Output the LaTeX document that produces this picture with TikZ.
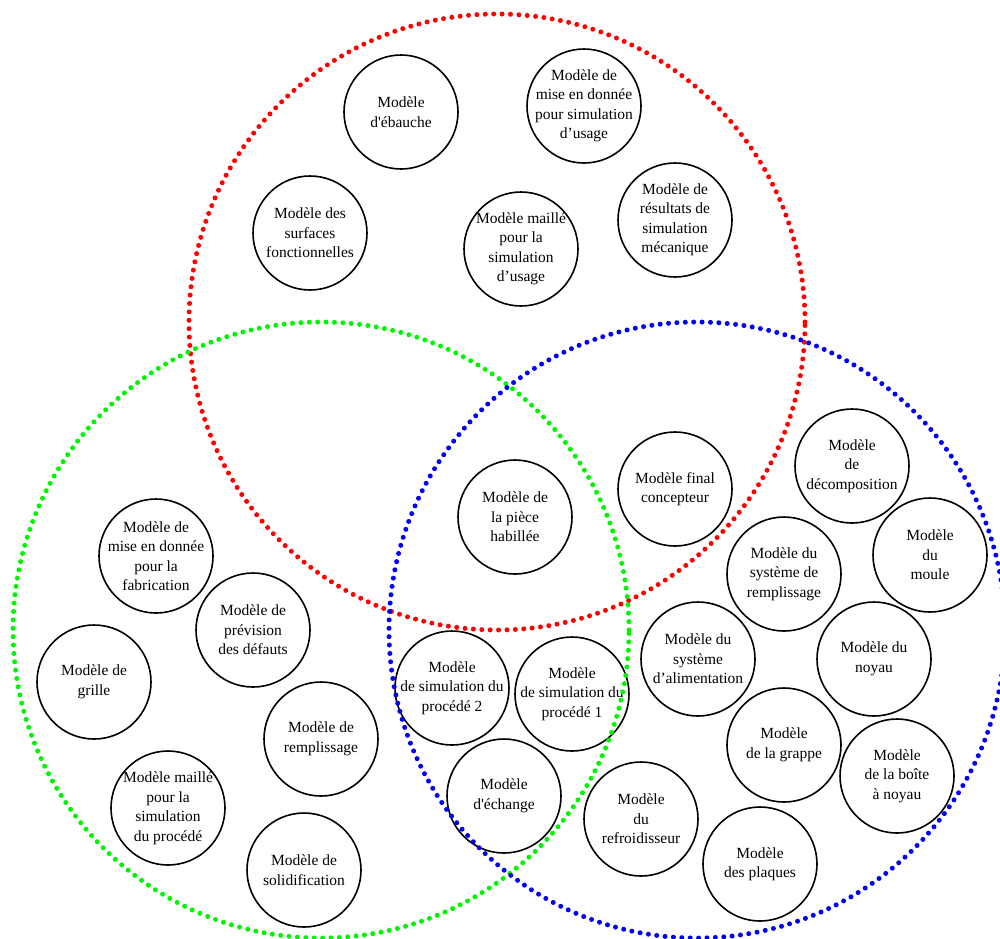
\documentclass[tikz,border=0pt]{standalone}
\usepackage{fontspec}
\setmainfont{Liberation Serif}[Ligatures=TeXOff]
\definecolor{vred}{RGB}{255,0,0}
\definecolor{vgreen}{RGB}{0,245,0}
\definecolor{vblue}{RGB}{0,0,245}
\begin{document}
\begin{tikzpicture}[x=1pt,y=-1pt,
  txt/.style={align=center,font=\fontsize{15.5}{19.5}\selectfont,inner sep=0pt},
  bub/.style={draw=black,line width=1.6pt},
  venn/.style={line width=5pt,line cap=round,dash pattern=on 0pt off 8.4pt}]
\useasboundingbox (0,0) rectangle (1000,938);
\clip (0,0) rectangle (1000,938);
\fill[white] (0,0) rectangle (1000,938);
% small models
\node[txt] (n1) at (401,112) {Modèle\\d'ébauche};
\node[txt] (n2) at (584,106) {Modèle de\\mise en donnée\\pour simulation\\d’usage};
\node[txt] (n3) at (310,233) {Modèle des\\surfaces\\fonctionnelles};
\node[txt] (n4) at (521,249) {Modèle maillé\\pour la\\simulation\\d’usage};
\node[txt] (n5) at (675,220) {Modèle de\\résultats de\\simulation\\mécanique};
\node[txt] (n6) at (515,517) {Modèle de\\la pièce\\habillée};
\node[txt] (n7) at (675,489) {Modèle final\\concepteur};
\node[txt] (n8) at (852,466) {Modèle\\de\\décomposition};
\node[txt] (n9) at (930,555) {Modèle\\du\\moule};
\node[txt] (n10) at (784,574) {Modèle du\\système de\\remplissage};
\node[txt] (n11) at (156,556) {Modèle de\\mise en donnée\\pour la\\fabrication};
\node[txt] (n12) at (253,630) {Modèle de\\prévision\\des défauts};
\node[txt] (n13) at (94,682) {Modèle de\\grille};
\node[txt] (n14) at (321,739) {Modèle de\\remplissage};
\node[txt] (n15) at (168,808) {Modèle maillé\\pour la\\simulation\\du procédé};
\node[txt] (n16) at (304,870) {Modèle de\\solidification};
\node[txt] (n17) at (452,688) {Modèle\\de simulation du\\procédé 2};
\node[txt] (n18) at (572,694) {Modèle\\de simulation du\\procédé 1};
\node[txt] (n19) at (504,796) {Modèle\\d'échange};
\node[txt] (n20) at (698,659) {Modèle du\\système\\d’alimentation};
\node[txt] (n21) at (874,659) {Modèle du\\noyau};
\node[txt] (n22) at (784,745) {Modèle\\de la grappe};
\node[txt] (n23) at (897,776) {Modèle\\de la boîte\\à noyau};
\node[txt] (n24) at (641,819) {Modèle\\du\\refroidisseur};
\node[txt] (n25) at (760,864) {Modèle\\des plaques};
\foreach \n in {n1,n2,n3,n4,n5,n6,n7,n8,n9,n10,n11,n12,n13,n14,n15,n16,n17,n18,n19,n20,n21,n22,n23,n24,n25}
  \draw[bub] (\n.center) circle[radius=57pt];
% big sets
\coordinate (R) at (497,322);
\coordinate (G) at (321,630);
\coordinate (B) at (697,630);
\draw[venn,vred] (R) circle[radius=308pt];
\draw[venn,vgreen] (G) circle[radius=308pt];
\draw[venn,vblue] (B) circle[radius=308pt];
\end{tikzpicture}
\end{document}
